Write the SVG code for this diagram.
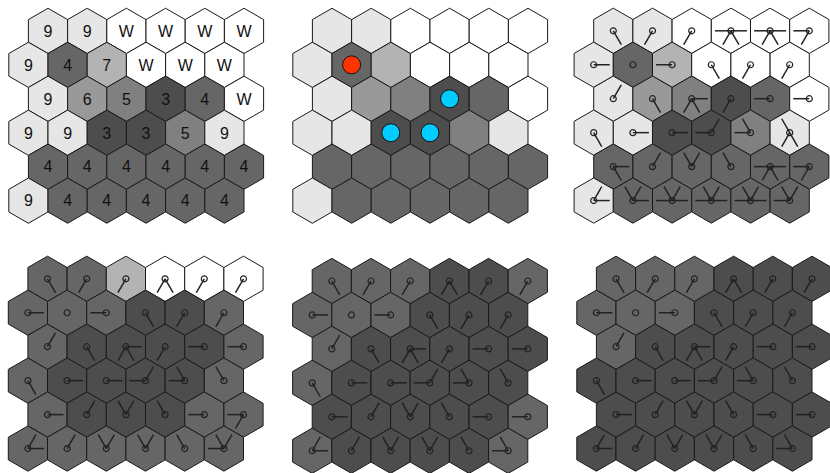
<svg xmlns="http://www.w3.org/2000/svg" xmlns:xlink="http://www.w3.org/1999/xlink" width="830" height="473" viewBox="0 0 830 473">
<style>
.w{fill:#ffffff}.a{fill:#e6e6e6}.b{fill:#b3b3b3}.c{fill:#999999}.d{fill:#808080}.e{fill:#666666}.f{fill:#4d4d4d}
text{font-family:"Liberation Sans",Arial,sans-serif;font-size:16px;text-anchor:middle;fill:#111}
</style>
<defs>
<polygon id="h" points="0,-22.63 19.6,-11.31 19.6,11.31 0,22.63 -19.6,11.31 -19.6,-11.31" stroke="#1a1a1a" stroke-width="1"/>
<circle id="o" r="3" fill="none" stroke="#222" stroke-width="1.2"/>
<line id="L" x1="0" y1="0" x2="-16" y2="0" stroke="#222" stroke-width="1.5"/>
<line id="R" x1="0" y1="0" x2="16" y2="0" stroke="#222" stroke-width="1.5"/>
<line id="UL" x1="0" y1="0" x2="-8" y2="-13.9" stroke="#222" stroke-width="1.5"/>
<line id="UR" x1="0" y1="0" x2="8" y2="-13.9" stroke="#222" stroke-width="1.5"/>
<line id="DL" x1="0" y1="0" x2="-8" y2="13.9" stroke="#222" stroke-width="1.5"/>
<line id="DR" x1="0" y1="0" x2="8" y2="13.9" stroke="#222" stroke-width="1.5"/>
</defs>

<!-- Panel 1 -->
<g id="panel1" transform="translate(48,30.9)">
<g id="p1-r0c0"><use href="#h" x="0" y="0" class="a"/><text x="0" y="5.8">9</text></g>
<g id="p1-r0c1"><use href="#h" x="39.2" y="0" class="a"/><text x="39.2" y="5.8">9</text></g>
<g id="p1-r0c2"><use href="#h" x="78.4" y="0" class="w"/><text x="78.4" y="5.8">W</text></g>
<g id="p1-r0c3"><use href="#h" x="117.6" y="0" class="w"/><text x="117.6" y="5.8">W</text></g>
<g id="p1-r0c4"><use href="#h" x="156.8" y="0" class="w"/><text x="156.8" y="5.8">W</text></g>
<g id="p1-r0c5"><use href="#h" x="196" y="0" class="w"/><text x="196" y="5.8">W</text></g>
<g id="p1-r1c0"><use href="#h" x="-19.6" y="33.95" class="a"/><text x="-19.6" y="39.75">9</text></g>
<g id="p1-r1c1"><use href="#h" x="19.6" y="33.95" class="e"/><text x="19.6" y="39.75">4</text></g>
<g id="p1-r1c2"><use href="#h" x="58.8" y="33.95" class="b"/><text x="58.8" y="39.75">7</text></g>
<g id="p1-r1c3"><use href="#h" x="98" y="33.95" class="w"/><text x="98" y="39.75">W</text></g>
<g id="p1-r1c4"><use href="#h" x="137.2" y="33.95" class="w"/><text x="137.2" y="39.75">W</text></g>
<g id="p1-r1c5"><use href="#h" x="176.4" y="33.95" class="w"/><text x="176.4" y="39.75">W</text></g>
<g id="p1-r2c0"><use href="#h" x="0" y="67.9" class="a"/><text x="0" y="73.7">9</text></g>
<g id="p1-r2c1"><use href="#h" x="39.2" y="67.9" class="c"/><text x="39.2" y="73.7">6</text></g>
<g id="p1-r2c2"><use href="#h" x="78.4" y="67.9" class="d"/><text x="78.4" y="73.7">5</text></g>
<g id="p1-r2c3"><use href="#h" x="117.6" y="67.9" class="f"/><text x="117.6" y="73.7">3</text></g>
<g id="p1-r2c4"><use href="#h" x="156.8" y="67.9" class="e"/><text x="156.8" y="73.7">4</text></g>
<g id="p1-r2c5"><use href="#h" x="196" y="67.9" class="w"/><text x="196" y="73.7">W</text></g>
<g id="p1-r3c0"><use href="#h" x="-19.6" y="101.85" class="a"/><text x="-19.6" y="107.65">9</text></g>
<g id="p1-r3c1"><use href="#h" x="19.6" y="101.85" class="a"/><text x="19.6" y="107.65">9</text></g>
<g id="p1-r3c2"><use href="#h" x="58.8" y="101.85" class="f"/><text x="58.8" y="107.65">3</text></g>
<g id="p1-r3c3"><use href="#h" x="98" y="101.85" class="f"/><text x="98" y="107.65">3</text></g>
<g id="p1-r3c4"><use href="#h" x="137.2" y="101.85" class="d"/><text x="137.2" y="107.65">5</text></g>
<g id="p1-r3c5"><use href="#h" x="176.4" y="101.85" class="a"/><text x="176.4" y="107.65">9</text></g>
<g id="p1-r4c0"><use href="#h" x="0" y="135.8" class="e"/><text x="0" y="141.6">4</text></g>
<g id="p1-r4c1"><use href="#h" x="39.2" y="135.8" class="e"/><text x="39.2" y="141.6">4</text></g>
<g id="p1-r4c2"><use href="#h" x="78.4" y="135.8" class="e"/><text x="78.4" y="141.6">4</text></g>
<g id="p1-r4c3"><use href="#h" x="117.6" y="135.8" class="e"/><text x="117.6" y="141.6">4</text></g>
<g id="p1-r4c4"><use href="#h" x="156.8" y="135.8" class="e"/><text x="156.8" y="141.6">4</text></g>
<g id="p1-r4c5"><use href="#h" x="196" y="135.8" class="e"/><text x="196" y="141.6">4</text></g>
<g id="p1-r5c0"><use href="#h" x="-19.6" y="169.75" class="a"/><text x="-19.6" y="175.55">9</text></g>
<g id="p1-r5c1"><use href="#h" x="19.6" y="169.75" class="e"/><text x="19.6" y="175.55">4</text></g>
<g id="p1-r5c2"><use href="#h" x="58.8" y="169.75" class="e"/><text x="58.8" y="175.55">4</text></g>
<g id="p1-r5c3"><use href="#h" x="98" y="169.75" class="e"/><text x="98" y="175.55">4</text></g>
<g id="p1-r5c4"><use href="#h" x="137.2" y="169.75" class="e"/><text x="137.2" y="175.55">4</text></g>
<g id="p1-r5c5"><use href="#h" x="176.4" y="169.75" class="e"/><text x="176.4" y="175.55">4</text></g>
</g>

<!-- Panel 2 -->
<g id="panel2" transform="translate(332,30.9)">
<g id="p2-r0c0"><use href="#h" x="0" y="0" class="a"/></g>
<g id="p2-r0c1"><use href="#h" x="39.2" y="0" class="a"/></g>
<g id="p2-r0c2"><use href="#h" x="78.4" y="0" class="w"/></g>
<g id="p2-r0c3"><use href="#h" x="117.6" y="0" class="w"/></g>
<g id="p2-r0c4"><use href="#h" x="156.8" y="0" class="w"/></g>
<g id="p2-r0c5"><use href="#h" x="196" y="0" class="w"/></g>
<g id="p2-r1c0"><use href="#h" x="-19.6" y="33.95" class="a"/></g>
<g id="p2-r1c1"><use href="#h" x="19.6" y="33.95" class="e"/><circle cx="19.6" cy="33.95" r="9" fill="#ff3300" stroke="#111" stroke-width="1"/></g>
<g id="p2-r1c2"><use href="#h" x="58.8" y="33.95" class="b"/></g>
<g id="p2-r1c3"><use href="#h" x="98" y="33.95" class="w"/></g>
<g id="p2-r1c4"><use href="#h" x="137.2" y="33.95" class="w"/></g>
<g id="p2-r1c5"><use href="#h" x="176.4" y="33.95" class="w"/></g>
<g id="p2-r2c0"><use href="#h" x="0" y="67.9" class="a"/></g>
<g id="p2-r2c1"><use href="#h" x="39.2" y="67.9" class="c"/></g>
<g id="p2-r2c2"><use href="#h" x="78.4" y="67.9" class="d"/></g>
<g id="p2-r2c3"><use href="#h" x="117.6" y="67.9" class="f"/><circle cx="117.6" cy="67.9" r="9" fill="#00ccff" stroke="#111" stroke-width="1"/></g>
<g id="p2-r2c4"><use href="#h" x="156.8" y="67.9" class="e"/></g>
<g id="p2-r2c5"><use href="#h" x="196" y="67.9" class="w"/></g>
<g id="p2-r3c0"><use href="#h" x="-19.6" y="101.85" class="a"/></g>
<g id="p2-r3c1"><use href="#h" x="19.6" y="101.85" class="a"/></g>
<g id="p2-r3c2"><use href="#h" x="58.8" y="101.85" class="f"/><circle cx="58.8" cy="101.85" r="9" fill="#00ccff" stroke="#111" stroke-width="1"/></g>
<g id="p2-r3c3"><use href="#h" x="98" y="101.85" class="f"/><circle cx="98" cy="101.85" r="9" fill="#00ccff" stroke="#111" stroke-width="1"/></g>
<g id="p2-r3c4"><use href="#h" x="137.2" y="101.85" class="d"/></g>
<g id="p2-r3c5"><use href="#h" x="176.4" y="101.85" class="a"/></g>
<g id="p2-r4c0"><use href="#h" x="0" y="135.8" class="e"/></g>
<g id="p2-r4c1"><use href="#h" x="39.2" y="135.8" class="e"/></g>
<g id="p2-r4c2"><use href="#h" x="78.4" y="135.8" class="e"/></g>
<g id="p2-r4c3"><use href="#h" x="117.6" y="135.8" class="e"/></g>
<g id="p2-r4c4"><use href="#h" x="156.8" y="135.8" class="e"/></g>
<g id="p2-r4c5"><use href="#h" x="196" y="135.8" class="e"/></g>
<g id="p2-r5c0"><use href="#h" x="-19.6" y="169.75" class="a"/></g>
<g id="p2-r5c1"><use href="#h" x="19.6" y="169.75" class="e"/></g>
<g id="p2-r5c2"><use href="#h" x="58.8" y="169.75" class="e"/></g>
<g id="p2-r5c3"><use href="#h" x="98" y="169.75" class="e"/></g>
<g id="p2-r5c4"><use href="#h" x="137.2" y="169.75" class="e"/></g>
<g id="p2-r5c5"><use href="#h" x="176.4" y="169.75" class="e"/></g>
</g>

<!-- Panel 3 -->
<g id="panel3" transform="translate(613.3,30.8)">
<g id="p3-r0c0"><use href="#h" x="0" y="0" class="a"/><use href="#o" x="0" y="0"/></g>
<g id="p3-r0c1"><use href="#h" x="39.2" y="0" class="a"/><use href="#o" x="39.2" y="0"/></g>
<g id="p3-r0c2"><use href="#h" x="78.4" y="0" class="w"/><use href="#o" x="78.4" y="0"/></g>
<g id="p3-r0c3"><use href="#h" x="117.6" y="0" class="w"/><use href="#o" x="117.6" y="0"/></g>
<g id="p3-r0c4"><use href="#h" x="156.8" y="0" class="w"/><use href="#o" x="156.8" y="0"/></g>
<g id="p3-r0c5"><use href="#h" x="196" y="0" class="w"/><use href="#o" x="196" y="0"/></g>
<g id="p3-r1c0"><use href="#h" x="-19.6" y="33.95" class="a"/><use href="#o" x="-19.6" y="33.95"/></g>
<g id="p3-r1c1"><use href="#h" x="19.6" y="33.95" class="e"/><use href="#o" x="19.6" y="33.95"/></g>
<g id="p3-r1c2"><use href="#h" x="58.8" y="33.95" class="b"/><use href="#o" x="58.8" y="33.95"/></g>
<g id="p3-r1c3"><use href="#h" x="98" y="33.95" class="w"/><use href="#o" x="98" y="33.95"/></g>
<g id="p3-r1c4"><use href="#h" x="137.2" y="33.95" class="w"/><use href="#o" x="137.2" y="33.95"/></g>
<g id="p3-r1c5"><use href="#h" x="176.4" y="33.95" class="w"/><use href="#o" x="176.4" y="33.95"/></g>
<g id="p3-r2c0"><use href="#h" x="0" y="67.9" class="a"/><use href="#o" x="0" y="67.9"/></g>
<g id="p3-r2c1"><use href="#h" x="39.2" y="67.9" class="c"/><use href="#o" x="39.2" y="67.9"/></g>
<g id="p3-r2c2"><use href="#h" x="78.4" y="67.9" class="d"/><use href="#o" x="78.4" y="67.9"/></g>
<g id="p3-r2c3"><use href="#h" x="117.6" y="67.9" class="f"/><use href="#o" x="117.6" y="67.9"/></g>
<g id="p3-r2c4"><use href="#h" x="156.8" y="67.9" class="e"/><use href="#o" x="156.8" y="67.9"/></g>
<g id="p3-r2c5"><use href="#h" x="196" y="67.9" class="w"/><use href="#o" x="196" y="67.9"/></g>
<g id="p3-r3c0"><use href="#h" x="-19.6" y="101.85" class="a"/><use href="#o" x="-19.6" y="101.85"/></g>
<g id="p3-r3c1"><use href="#h" x="19.6" y="101.85" class="a"/><use href="#o" x="19.6" y="101.85"/></g>
<g id="p3-r3c2"><use href="#h" x="58.8" y="101.85" class="f"/><use href="#o" x="58.8" y="101.85"/></g>
<g id="p3-r3c3"><use href="#h" x="98" y="101.85" class="f"/><use href="#o" x="98" y="101.85"/></g>
<g id="p3-r3c4"><use href="#h" x="137.2" y="101.85" class="d"/><use href="#o" x="137.2" y="101.85"/></g>
<g id="p3-r3c5"><use href="#h" x="176.4" y="101.85" class="a"/><use href="#o" x="176.4" y="101.85"/></g>
<g id="p3-r4c0"><use href="#h" x="0" y="135.8" class="e"/><use href="#o" x="0" y="135.8"/></g>
<g id="p3-r4c1"><use href="#h" x="39.2" y="135.8" class="e"/><use href="#o" x="39.2" y="135.8"/></g>
<g id="p3-r4c2"><use href="#h" x="78.4" y="135.8" class="e"/><use href="#o" x="78.4" y="135.8"/></g>
<g id="p3-r4c3"><use href="#h" x="117.6" y="135.8" class="e"/><use href="#o" x="117.6" y="135.8"/></g>
<g id="p3-r4c4"><use href="#h" x="156.8" y="135.8" class="e"/><use href="#o" x="156.8" y="135.8"/></g>
<g id="p3-r4c5"><use href="#h" x="196" y="135.8" class="e"/><use href="#o" x="196" y="135.8"/></g>
<g id="p3-r5c0"><use href="#h" x="-19.6" y="169.75" class="a"/><use href="#o" x="-19.6" y="169.75"/></g>
<g id="p3-r5c1"><use href="#h" x="19.6" y="169.75" class="e"/><use href="#o" x="19.6" y="169.75"/></g>
<g id="p3-r5c2"><use href="#h" x="58.8" y="169.75" class="e"/><use href="#o" x="58.8" y="169.75"/></g>
<g id="p3-r5c3"><use href="#h" x="98" y="169.75" class="e"/><use href="#o" x="98" y="169.75"/></g>
<g id="p3-r5c4"><use href="#h" x="137.2" y="169.75" class="e"/><use href="#o" x="137.2" y="169.75"/></g>
<g id="p3-r5c5"><use href="#h" x="176.4" y="169.75" class="e"/><use href="#o" x="176.4" y="169.75"/></g>
<g id="p3-connectors">
<use href="#DR" x="0" y="0"/>
<use href="#DL" x="39.2" y="0"/>
<use href="#DL" x="78.4" y="0"/>
<use href="#L" x="117.6" y="0"/><use href="#R" x="117.6" y="0"/><use href="#DL" x="117.6" y="0"/><use href="#DR" x="117.6" y="0"/>
<use href="#L" x="156.8" y="0"/><use href="#R" x="156.8" y="0"/><use href="#DL" x="156.8" y="0"/><use href="#DR" x="156.8" y="0"/>
<use href="#L" x="196" y="0"/><use href="#DL" x="196" y="0"/>
<use href="#R" x="-19.6" y="33.95"/>
<use href="#L" x="58.8" y="33.95"/>
<use href="#DR" x="98" y="33.95"/>
<use href="#DL" x="137.2" y="33.95"/>
<use href="#DL" x="176.4" y="33.95"/>
<use href="#UR" x="0" y="67.9"/>
<use href="#DR" x="39.2" y="67.9"/>
<use href="#R" x="78.4" y="67.9"/><use href="#DL" x="78.4" y="67.9"/><use href="#DR" x="78.4" y="67.9"/>
<use href="#DL" x="117.6" y="67.9"/>
<use href="#L" x="156.8" y="67.9"/>
<use href="#L" x="196" y="67.9"/>
<use href="#DR" x="-19.6" y="101.85"/>
<use href="#R" x="19.6" y="101.85"/>
<use href="#R" x="58.8" y="101.85"/>
<use href="#L" x="98" y="101.85"/><use href="#UR" x="98" y="101.85"/>
<use href="#L" x="137.2" y="101.85"/><use href="#UL" x="137.2" y="101.85"/>
<use href="#UL" x="176.4" y="101.85"/><use href="#DL" x="176.4" y="101.85"/><use href="#DR" x="176.4" y="101.85"/>
<use href="#R" x="0" y="135.8"/><use href="#DR" x="0" y="135.8"/>
<use href="#UR" x="39.2" y="135.8"/>
<use href="#UL" x="78.4" y="135.8"/><use href="#UR" x="78.4" y="135.8"/>
<use href="#UL" x="117.6" y="135.8"/>
<use href="#L" x="156.8" y="135.8"/><use href="#R" x="156.8" y="135.8"/><use href="#DL" x="156.8" y="135.8"/><use href="#DR" x="156.8" y="135.8"/>
<use href="#L" x="196" y="135.8"/><use href="#DL" x="196" y="135.8"/>
<use href="#UR" x="-19.6" y="169.75"/><use href="#R" x="-19.6" y="169.75"/>
<use href="#UL" x="19.6" y="169.75"/><use href="#UR" x="19.6" y="169.75"/><use href="#R" x="19.6" y="169.75"/>
<use href="#L" x="58.8" y="169.75"/><use href="#R" x="58.8" y="169.75"/><use href="#UL" x="58.8" y="169.75"/><use href="#UR" x="58.8" y="169.75"/>
<use href="#L" x="98" y="169.75"/><use href="#R" x="98" y="169.75"/><use href="#UL" x="98" y="169.75"/><use href="#UR" x="98" y="169.75"/>
<use href="#L" x="137.2" y="169.75"/><use href="#R" x="137.2" y="169.75"/><use href="#UL" x="137.2" y="169.75"/><use href="#UR" x="137.2" y="169.75"/>
<use href="#L" x="176.4" y="169.75"/><use href="#UL" x="176.4" y="169.75"/><use href="#UR" x="176.4" y="169.75"/>
</g>
</g>

<!-- Panel 4 -->
<g id="panel4" transform="translate(47.5,278.8)">
<g id="p4-r0c0"><use href="#h" x="0" y="0" class="e"/><use href="#o" x="0" y="0"/></g>
<g id="p4-r0c1"><use href="#h" x="39.2" y="0" class="e"/><use href="#o" x="39.2" y="0"/></g>
<g id="p4-r0c2"><use href="#h" x="78.4" y="0" class="b"/><use href="#o" x="78.4" y="0"/></g>
<g id="p4-r0c3"><use href="#h" x="117.6" y="0" class="w"/><use href="#o" x="117.6" y="0"/></g>
<g id="p4-r0c4"><use href="#h" x="156.8" y="0" class="w"/><use href="#o" x="156.8" y="0"/></g>
<g id="p4-r0c5"><use href="#h" x="196" y="0" class="w"/><use href="#o" x="196" y="0"/></g>
<g id="p4-r1c0"><use href="#h" x="-19.6" y="33.95" class="e"/><use href="#o" x="-19.6" y="33.95"/></g>
<g id="p4-r1c1"><use href="#h" x="19.6" y="33.95" class="e"/><use href="#o" x="19.6" y="33.95"/></g>
<g id="p4-r1c2"><use href="#h" x="58.8" y="33.95" class="e"/><use href="#o" x="58.8" y="33.95"/></g>
<g id="p4-r1c3"><use href="#h" x="98" y="33.95" class="f"/><use href="#o" x="98" y="33.95"/></g>
<g id="p4-r1c4"><use href="#h" x="137.2" y="33.95" class="f"/><use href="#o" x="137.2" y="33.95"/></g>
<g id="p4-r1c5"><use href="#h" x="176.4" y="33.95" class="e"/><use href="#o" x="176.4" y="33.95"/></g>
<g id="p4-r2c0"><use href="#h" x="0" y="67.9" class="e"/><use href="#o" x="0" y="67.9"/></g>
<g id="p4-r2c1"><use href="#h" x="39.2" y="67.9" class="f"/><use href="#o" x="39.2" y="67.9"/></g>
<g id="p4-r2c2"><use href="#h" x="78.4" y="67.9" class="f"/><use href="#o" x="78.4" y="67.9"/></g>
<g id="p4-r2c3"><use href="#h" x="117.6" y="67.9" class="f"/><use href="#o" x="117.6" y="67.9"/></g>
<g id="p4-r2c4"><use href="#h" x="156.8" y="67.9" class="f"/><use href="#o" x="156.8" y="67.9"/></g>
<g id="p4-r2c5"><use href="#h" x="196" y="67.9" class="e"/><use href="#o" x="196" y="67.9"/></g>
<g id="p4-r3c0"><use href="#h" x="-19.6" y="101.85" class="e"/><use href="#o" x="-19.6" y="101.85"/></g>
<g id="p4-r3c1"><use href="#h" x="19.6" y="101.85" class="f"/><use href="#o" x="19.6" y="101.85"/></g>
<g id="p4-r3c2"><use href="#h" x="58.8" y="101.85" class="f"/><use href="#o" x="58.8" y="101.85"/></g>
<g id="p4-r3c3"><use href="#h" x="98" y="101.85" class="f"/><use href="#o" x="98" y="101.85"/></g>
<g id="p4-r3c4"><use href="#h" x="137.2" y="101.85" class="f"/><use href="#o" x="137.2" y="101.85"/></g>
<g id="p4-r3c5"><use href="#h" x="176.4" y="101.85" class="e"/><use href="#o" x="176.4" y="101.85"/></g>
<g id="p4-r4c0"><use href="#h" x="0" y="135.8" class="e"/><use href="#o" x="0" y="135.8"/></g>
<g id="p4-r4c1"><use href="#h" x="39.2" y="135.8" class="f"/><use href="#o" x="39.2" y="135.8"/></g>
<g id="p4-r4c2"><use href="#h" x="78.4" y="135.8" class="f"/><use href="#o" x="78.4" y="135.8"/></g>
<g id="p4-r4c3"><use href="#h" x="117.6" y="135.8" class="f"/><use href="#o" x="117.6" y="135.8"/></g>
<g id="p4-r4c4"><use href="#h" x="156.8" y="135.8" class="e"/><use href="#o" x="156.8" y="135.8"/></g>
<g id="p4-r4c5"><use href="#h" x="196" y="135.8" class="e"/><use href="#o" x="196" y="135.8"/></g>
<g id="p4-r5c0"><use href="#h" x="-19.6" y="169.75" class="e"/><use href="#o" x="-19.6" y="169.75"/></g>
<g id="p4-r5c1"><use href="#h" x="19.6" y="169.75" class="e"/><use href="#o" x="19.6" y="169.75"/></g>
<g id="p4-r5c2"><use href="#h" x="58.8" y="169.75" class="e"/><use href="#o" x="58.8" y="169.75"/></g>
<g id="p4-r5c3"><use href="#h" x="98" y="169.75" class="e"/><use href="#o" x="98" y="169.75"/></g>
<g id="p4-r5c4"><use href="#h" x="137.2" y="169.75" class="e"/><use href="#o" x="137.2" y="169.75"/></g>
<g id="p4-r5c5"><use href="#h" x="176.4" y="169.75" class="e"/><use href="#o" x="176.4" y="169.75"/></g>
<g id="p4-connectors">
<use href="#DR" x="0" y="0"/>
<use href="#DL" x="39.2" y="0"/>
<use href="#DL" x="78.4" y="0"/>
<use href="#DL" x="117.6" y="0"/><use href="#DR" x="117.6" y="0"/>
<use href="#DL" x="156.8" y="0"/>
<use href="#DL" x="196" y="0"/>
<use href="#R" x="-19.6" y="33.95"/>
<use href="#L" x="58.8" y="33.95"/>
<use href="#DR" x="98" y="33.95"/>
<use href="#DL" x="137.2" y="33.95"/>
<use href="#DL" x="176.4" y="33.95"/>
<use href="#UR" x="0" y="67.9"/>
<use href="#DR" x="39.2" y="67.9"/>
<use href="#R" x="78.4" y="67.9"/><use href="#DL" x="78.4" y="67.9"/><use href="#DR" x="78.4" y="67.9"/>
<use href="#DL" x="117.6" y="67.9"/>
<use href="#L" x="156.8" y="67.9"/>
<use href="#L" x="196" y="67.9"/>
<use href="#DR" x="-19.6" y="101.85"/>
<use href="#R" x="19.6" y="101.85"/>
<use href="#R" x="58.8" y="101.85"/>
<use href="#L" x="98" y="101.85"/><use href="#UR" x="98" y="101.85"/>
<use href="#L" x="137.2" y="101.85"/><use href="#UL" x="137.2" y="101.85"/>
<use href="#UL" x="176.4" y="101.85"/>
<use href="#R" x="0" y="135.8"/>
<use href="#UR" x="39.2" y="135.8"/>
<use href="#UL" x="78.4" y="135.8"/><use href="#UR" x="78.4" y="135.8"/>
<use href="#UL" x="117.6" y="135.8"/>
<use href="#L" x="156.8" y="135.8"/>
<use href="#L" x="196" y="135.8"/><use href="#DL" x="196" y="135.8"/>
<use href="#UR" x="-19.6" y="169.75"/><use href="#R" x="-19.6" y="169.75"/>
<use href="#UR" x="19.6" y="169.75"/>
<use href="#UL" x="58.8" y="169.75"/><use href="#UR" x="58.8" y="169.75"/>
<use href="#UL" x="98" y="169.75"/><use href="#UR" x="98" y="169.75"/>
<use href="#UL" x="137.2" y="169.75"/>
<use href="#L" x="176.4" y="169.75"/><use href="#UL" x="176.4" y="169.75"/><use href="#UR" x="176.4" y="169.75"/>
</g>
</g>

<!-- Panel 5 -->
<g id="panel5" transform="translate(331.8,281)">
<g id="p5-r0c0"><use href="#h" x="0" y="0" class="e"/><use href="#o" x="0" y="0"/></g>
<g id="p5-r0c1"><use href="#h" x="39.2" y="0" class="e"/><use href="#o" x="39.2" y="0"/></g>
<g id="p5-r0c2"><use href="#h" x="78.4" y="0" class="e"/><use href="#o" x="78.4" y="0"/></g>
<g id="p5-r0c3"><use href="#h" x="117.6" y="0" class="f"/><use href="#o" x="117.6" y="0"/></g>
<g id="p5-r0c4"><use href="#h" x="156.8" y="0" class="f"/><use href="#o" x="156.8" y="0"/></g>
<g id="p5-r0c5"><use href="#h" x="196" y="0" class="e"/><use href="#o" x="196" y="0"/></g>
<g id="p5-r1c0"><use href="#h" x="-19.6" y="33.95" class="e"/><use href="#o" x="-19.6" y="33.95"/></g>
<g id="p5-r1c1"><use href="#h" x="19.6" y="33.95" class="e"/><use href="#o" x="19.6" y="33.95"/></g>
<g id="p5-r1c2"><use href="#h" x="58.8" y="33.95" class="e"/><use href="#o" x="58.8" y="33.95"/></g>
<g id="p5-r1c3"><use href="#h" x="98" y="33.95" class="f"/><use href="#o" x="98" y="33.95"/></g>
<g id="p5-r1c4"><use href="#h" x="137.2" y="33.95" class="f"/><use href="#o" x="137.2" y="33.95"/></g>
<g id="p5-r1c5"><use href="#h" x="176.4" y="33.95" class="f"/><use href="#o" x="176.4" y="33.95"/></g>
<g id="p5-r2c0"><use href="#h" x="0" y="67.9" class="e"/><use href="#o" x="0" y="67.9"/></g>
<g id="p5-r2c1"><use href="#h" x="39.2" y="67.9" class="f"/><use href="#o" x="39.2" y="67.9"/></g>
<g id="p5-r2c2"><use href="#h" x="78.4" y="67.9" class="f"/><use href="#o" x="78.4" y="67.9"/></g>
<g id="p5-r2c3"><use href="#h" x="117.6" y="67.9" class="f"/><use href="#o" x="117.6" y="67.9"/></g>
<g id="p5-r2c4"><use href="#h" x="156.8" y="67.9" class="f"/><use href="#o" x="156.8" y="67.9"/></g>
<g id="p5-r2c5"><use href="#h" x="196" y="67.9" class="f"/><use href="#o" x="196" y="67.9"/></g>
<g id="p5-r3c0"><use href="#h" x="-19.6" y="101.85" class="e"/><use href="#o" x="-19.6" y="101.85"/></g>
<g id="p5-r3c1"><use href="#h" x="19.6" y="101.85" class="f"/><use href="#o" x="19.6" y="101.85"/></g>
<g id="p5-r3c2"><use href="#h" x="58.8" y="101.85" class="f"/><use href="#o" x="58.8" y="101.85"/></g>
<g id="p5-r3c3"><use href="#h" x="98" y="101.85" class="f"/><use href="#o" x="98" y="101.85"/></g>
<g id="p5-r3c4"><use href="#h" x="137.2" y="101.85" class="f"/><use href="#o" x="137.2" y="101.85"/></g>
<g id="p5-r3c5"><use href="#h" x="176.4" y="101.85" class="f"/><use href="#o" x="176.4" y="101.85"/></g>
<g id="p5-r4c0"><use href="#h" x="0" y="135.8" class="f"/><use href="#o" x="0" y="135.8"/></g>
<g id="p5-r4c1"><use href="#h" x="39.2" y="135.8" class="f"/><use href="#o" x="39.2" y="135.8"/></g>
<g id="p5-r4c2"><use href="#h" x="78.4" y="135.8" class="f"/><use href="#o" x="78.4" y="135.8"/></g>
<g id="p5-r4c3"><use href="#h" x="117.6" y="135.8" class="f"/><use href="#o" x="117.6" y="135.8"/></g>
<g id="p5-r4c4"><use href="#h" x="156.8" y="135.8" class="f"/><use href="#o" x="156.8" y="135.8"/></g>
<g id="p5-r4c5"><use href="#h" x="196" y="135.8" class="e"/><use href="#o" x="196" y="135.8"/></g>
<g id="p5-r5c0"><use href="#h" x="-19.6" y="169.75" class="e"/><use href="#o" x="-19.6" y="169.75"/></g>
<g id="p5-r5c1"><use href="#h" x="19.6" y="169.75" class="f"/><use href="#o" x="19.6" y="169.75"/></g>
<g id="p5-r5c2"><use href="#h" x="58.8" y="169.75" class="f"/><use href="#o" x="58.8" y="169.75"/></g>
<g id="p5-r5c3"><use href="#h" x="98" y="169.75" class="f"/><use href="#o" x="98" y="169.75"/></g>
<g id="p5-r5c4"><use href="#h" x="137.2" y="169.75" class="f"/><use href="#o" x="137.2" y="169.75"/></g>
<g id="p5-r5c5"><use href="#h" x="176.4" y="169.75" class="e"/><use href="#o" x="176.4" y="169.75"/></g>
<g id="p5-connectors">
<use href="#DR" x="0" y="0"/>
<use href="#DL" x="39.2" y="0"/>
<use href="#DL" x="78.4" y="0"/>
<use href="#DL" x="117.6" y="0"/><use href="#DR" x="117.6" y="0"/>
<use href="#DL" x="156.8" y="0"/>
<use href="#DL" x="196" y="0"/>
<use href="#R" x="-19.6" y="33.95"/>
<use href="#L" x="58.8" y="33.95"/>
<use href="#DR" x="98" y="33.95"/>
<use href="#DL" x="137.2" y="33.95"/>
<use href="#DL" x="176.4" y="33.95"/>
<use href="#UR" x="0" y="67.9"/>
<use href="#DR" x="39.2" y="67.9"/>
<use href="#R" x="78.4" y="67.9"/><use href="#DL" x="78.4" y="67.9"/><use href="#DR" x="78.4" y="67.9"/>
<use href="#DL" x="117.6" y="67.9"/>
<use href="#L" x="156.8" y="67.9"/>
<use href="#L" x="196" y="67.9"/>
<use href="#DR" x="-19.6" y="101.85"/>
<use href="#R" x="19.6" y="101.85"/>
<use href="#R" x="58.8" y="101.85"/>
<use href="#L" x="98" y="101.85"/><use href="#UR" x="98" y="101.85"/>
<use href="#L" x="137.2" y="101.85"/><use href="#UL" x="137.2" y="101.85"/>
<use href="#UL" x="176.4" y="101.85"/>
<use href="#R" x="0" y="135.8"/>
<use href="#UR" x="39.2" y="135.8"/>
<use href="#UL" x="78.4" y="135.8"/><use href="#UR" x="78.4" y="135.8"/>
<use href="#UL" x="117.6" y="135.8"/>
<use href="#L" x="156.8" y="135.8"/>
<use href="#L" x="196" y="135.8"/>
<use href="#UR" x="-19.6" y="169.75"/><use href="#R" x="-19.6" y="169.75"/>
<use href="#UR" x="19.6" y="169.75"/>
<use href="#UL" x="58.8" y="169.75"/><use href="#UR" x="58.8" y="169.75"/>
<use href="#UL" x="98" y="169.75"/><use href="#UR" x="98" y="169.75"/>
<use href="#UL" x="137.2" y="169.75"/>
<use href="#L" x="176.4" y="169.75"/><use href="#UL" x="176.4" y="169.75"/>
</g>
</g>

<!-- Panel 6 -->
<g id="panel6" transform="translate(616,278.8)">
<g id="p6-r0c0"><use href="#h" x="0" y="0" class="e"/><use href="#o" x="0" y="0"/></g>
<g id="p6-r0c1"><use href="#h" x="39.2" y="0" class="e"/><use href="#o" x="39.2" y="0"/></g>
<g id="p6-r0c2"><use href="#h" x="78.4" y="0" class="e"/><use href="#o" x="78.4" y="0"/></g>
<g id="p6-r0c3"><use href="#h" x="117.6" y="0" class="f"/><use href="#o" x="117.6" y="0"/></g>
<g id="p6-r0c4"><use href="#h" x="156.8" y="0" class="f"/><use href="#o" x="156.8" y="0"/></g>
<g id="p6-r0c5"><use href="#h" x="196" y="0" class="f"/><use href="#o" x="196" y="0"/></g>
<g id="p6-r1c0"><use href="#h" x="-19.6" y="33.95" class="e"/><use href="#o" x="-19.6" y="33.95"/></g>
<g id="p6-r1c1"><use href="#h" x="19.6" y="33.95" class="e"/><use href="#o" x="19.6" y="33.95"/></g>
<g id="p6-r1c2"><use href="#h" x="58.8" y="33.95" class="e"/><use href="#o" x="58.8" y="33.95"/></g>
<g id="p6-r1c3"><use href="#h" x="98" y="33.95" class="f"/><use href="#o" x="98" y="33.95"/></g>
<g id="p6-r1c4"><use href="#h" x="137.2" y="33.95" class="f"/><use href="#o" x="137.2" y="33.95"/></g>
<g id="p6-r1c5"><use href="#h" x="176.4" y="33.95" class="f"/><use href="#o" x="176.4" y="33.95"/></g>
<g id="p6-r2c0"><use href="#h" x="0" y="67.9" class="e"/><use href="#o" x="0" y="67.9"/></g>
<g id="p6-r2c1"><use href="#h" x="39.2" y="67.9" class="f"/><use href="#o" x="39.2" y="67.9"/></g>
<g id="p6-r2c2"><use href="#h" x="78.4" y="67.9" class="f"/><use href="#o" x="78.4" y="67.9"/></g>
<g id="p6-r2c3"><use href="#h" x="117.6" y="67.9" class="f"/><use href="#o" x="117.6" y="67.9"/></g>
<g id="p6-r2c4"><use href="#h" x="156.8" y="67.9" class="f"/><use href="#o" x="156.8" y="67.9"/></g>
<g id="p6-r2c5"><use href="#h" x="196" y="67.9" class="f"/><use href="#o" x="196" y="67.9"/></g>
<g id="p6-r3c0"><use href="#h" x="-19.6" y="101.85" class="f"/><use href="#o" x="-19.6" y="101.85"/></g>
<g id="p6-r3c1"><use href="#h" x="19.6" y="101.85" class="f"/><use href="#o" x="19.6" y="101.85"/></g>
<g id="p6-r3c2"><use href="#h" x="58.8" y="101.85" class="f"/><use href="#o" x="58.8" y="101.85"/></g>
<g id="p6-r3c3"><use href="#h" x="98" y="101.85" class="f"/><use href="#o" x="98" y="101.85"/></g>
<g id="p6-r3c4"><use href="#h" x="137.2" y="101.85" class="f"/><use href="#o" x="137.2" y="101.85"/></g>
<g id="p6-r3c5"><use href="#h" x="176.4" y="101.85" class="f"/><use href="#o" x="176.4" y="101.85"/></g>
<g id="p6-r4c0"><use href="#h" x="0" y="135.8" class="f"/><use href="#o" x="0" y="135.8"/></g>
<g id="p6-r4c1"><use href="#h" x="39.2" y="135.8" class="f"/><use href="#o" x="39.2" y="135.8"/></g>
<g id="p6-r4c2"><use href="#h" x="78.4" y="135.8" class="f"/><use href="#o" x="78.4" y="135.8"/></g>
<g id="p6-r4c3"><use href="#h" x="117.6" y="135.8" class="f"/><use href="#o" x="117.6" y="135.8"/></g>
<g id="p6-r4c4"><use href="#h" x="156.8" y="135.8" class="f"/><use href="#o" x="156.8" y="135.8"/></g>
<g id="p6-r4c5"><use href="#h" x="196" y="135.8" class="f"/><use href="#o" x="196" y="135.8"/></g>
<g id="p6-r5c0"><use href="#h" x="-19.6" y="169.75" class="f"/><use href="#o" x="-19.6" y="169.75"/></g>
<g id="p6-r5c1"><use href="#h" x="19.6" y="169.75" class="f"/><use href="#o" x="19.6" y="169.75"/></g>
<g id="p6-r5c2"><use href="#h" x="58.8" y="169.75" class="f"/><use href="#o" x="58.8" y="169.75"/></g>
<g id="p6-r5c3"><use href="#h" x="98" y="169.75" class="f"/><use href="#o" x="98" y="169.75"/></g>
<g id="p6-r5c4"><use href="#h" x="137.2" y="169.75" class="f"/><use href="#o" x="137.2" y="169.75"/></g>
<g id="p6-r5c5"><use href="#h" x="176.4" y="169.75" class="f"/><use href="#o" x="176.4" y="169.75"/></g>
<g id="p6-connectors">
<use href="#DR" x="0" y="0"/>
<use href="#DL" x="39.2" y="0"/>
<use href="#DL" x="78.4" y="0"/>
<use href="#DL" x="117.6" y="0"/><use href="#DR" x="117.6" y="0"/>
<use href="#DL" x="156.8" y="0"/>
<use href="#DL" x="196" y="0"/>
<use href="#R" x="-19.6" y="33.95"/>
<use href="#L" x="58.8" y="33.95"/>
<use href="#DR" x="98" y="33.95"/>
<use href="#DL" x="137.2" y="33.95"/>
<use href="#DL" x="176.4" y="33.95"/>
<use href="#UR" x="0" y="67.9"/>
<use href="#DR" x="39.2" y="67.9"/>
<use href="#R" x="78.4" y="67.9"/><use href="#DL" x="78.4" y="67.9"/><use href="#DR" x="78.4" y="67.9"/>
<use href="#DL" x="117.6" y="67.9"/>
<use href="#L" x="156.8" y="67.9"/>
<use href="#L" x="196" y="67.9"/>
<use href="#DR" x="-19.6" y="101.85"/>
<use href="#R" x="19.6" y="101.85"/>
<use href="#R" x="58.8" y="101.85"/>
<use href="#L" x="98" y="101.85"/><use href="#UR" x="98" y="101.85"/>
<use href="#L" x="137.2" y="101.85"/><use href="#UL" x="137.2" y="101.85"/>
<use href="#UL" x="176.4" y="101.85"/>
<use href="#R" x="0" y="135.8"/>
<use href="#UR" x="39.2" y="135.8"/>
<use href="#UL" x="78.4" y="135.8"/><use href="#UR" x="78.4" y="135.8"/>
<use href="#UL" x="117.6" y="135.8"/>
<use href="#L" x="156.8" y="135.8"/>
<use href="#L" x="196" y="135.8"/>
<use href="#UR" x="-19.6" y="169.75"/><use href="#R" x="-19.6" y="169.75"/>
<use href="#UR" x="19.6" y="169.75"/>
<use href="#UL" x="58.8" y="169.75"/><use href="#UR" x="58.8" y="169.75"/>
<use href="#UL" x="98" y="169.75"/><use href="#UR" x="98" y="169.75"/>
<use href="#UL" x="137.2" y="169.75"/>
<use href="#L" x="176.4" y="169.75"/><use href="#UL" x="176.4" y="169.75"/>
</g>
</g>
</svg>
